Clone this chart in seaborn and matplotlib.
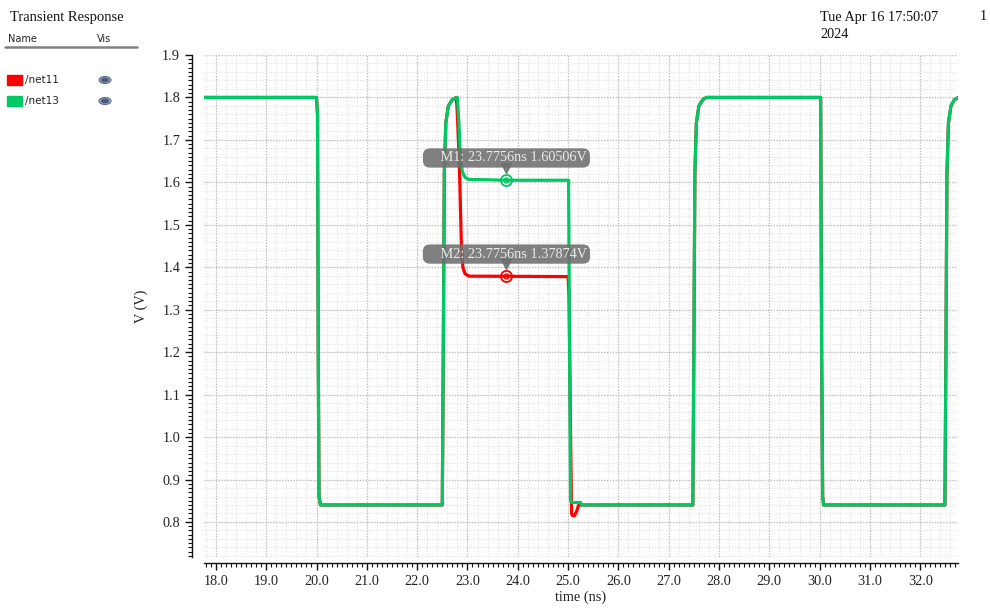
import numpy as np
import pandas as pd
import matplotlib
matplotlib.use("Agg")
import matplotlib.pyplot as plt
import matplotlib.transforms as mtransforms
import seaborn as sns
from matplotlib.patches import Ellipse, Rectangle, Circle
from matplotlib.lines import Line2D

# waveform samples (time in ns, volts)
net13_t = [17.76, 20.00, 20.02, 20.035, 20.05, 20.08, 22.50, 22.52, 22.54, 22.57, 22.62, 22.70, 22.80,
           22.83, 22.86, 22.90, 22.95, 23.02, 23.78, 25.01, 25.03, 25.05, 25.08, 25.25, 25.27,
           27.48, 27.50, 27.52, 27.55, 27.60, 27.68, 27.75, 30.02, 30.04, 30.06, 30.08,
           32.49, 32.51, 32.53, 32.56, 32.61, 32.68, 32.76]
net13_v = [1.80, 1.80, 1.76, 1.20, 0.86, 0.84, 0.84, 1.20, 1.62, 1.74, 1.78, 1.795, 1.80,
           1.74, 1.66, 1.625, 1.612, 1.607, 1.605, 1.605, 1.20, 0.85, 0.846, 0.846, 0.84,
           0.84, 1.20, 1.62, 1.74, 1.78, 1.795, 1.80, 1.80, 1.20, 0.86, 0.84,
           0.84, 1.20, 1.62, 1.74, 1.78, 1.795, 1.80]

net11_t = [17.76, 20.00, 20.02, 20.035, 20.05, 20.08, 22.50, 22.52, 22.54, 22.57, 22.62, 22.70, 22.78,
           22.80, 22.84, 22.88, 22.91, 22.95, 23.03, 23.78, 25.00, 25.02, 25.05, 25.07, 25.09,
           25.13, 25.17, 25.21, 25.27, 27.48, 27.50, 27.52, 27.55, 27.60, 27.68, 27.75,
           30.02, 30.04, 30.06, 30.08, 32.49, 32.51, 32.53, 32.56, 32.61, 32.68, 32.76]
net11_v = [1.80, 1.80, 1.76, 1.20, 0.86, 0.84, 0.84, 1.20, 1.62, 1.74, 1.78, 1.795, 1.80,
           1.76, 1.64, 1.45, 1.40, 1.385, 1.379, 1.37874, 1.378, 1.33, 1.00, 0.82, 0.815,
           0.815, 0.825, 0.84, 0.84, 0.84, 1.20, 1.62, 1.74, 1.78, 1.795, 1.80,
           1.80, 1.20, 0.86, 0.84, 0.84, 1.20, 1.62, 1.74, 1.78, 1.795, 1.80]

marker_names = ["M1", "M2"]
marker_t = [23.7756, 23.7756]
marker_v = [1.60506, 1.37874]
marker_series = ["/net13", "/net11"]

colors = {"/net11": "#ff0000", "/net13": "#00c864"}

df = pd.concat([
    pd.DataFrame({"time": net11_t, "volt": net11_v, "signal": "/net11"}),
    pd.DataFrame({"time": net13_t, "volt": net13_v, "signal": "/net13"}),
])

sns.set_theme(style="white")
plt.rcParams["font.family"] = ["Liberation Serif", "DejaVu Serif"]

fig = plt.figure(figsize=(9.9, 6.12), dpi=100)
ax = fig.add_axes([204 / 990, 1 - 557 / 612, 754 / 990, 502 / 612])

sns.lineplot(data=df, x="time", y="volt", hue="signal", palette=colors,
             hue_order=["/net11", "/net13"], sort=False, estimator=None,
             linewidth=2.3, legend=False, ax=ax, zorder=3)

ax.set_xlim(17.764, 32.75)
ax.set_ylim(0.7175, 1.9)

# grid: light minor grid plus a darker major grid, both dotted
for gx in np.arange(17.8, 32.8, 0.2):
    ax.axvline(gx, color="#e2e2e2", lw=0.8, ls=(0, (1, 1.5)), zorder=0)
for gy in np.arange(0.72, 1.9, 0.02):
    ax.axhline(gy, color="#e2e2e2", lw=0.8, ls=(0, (1, 1.5)), zorder=0)
ax.set_xticks(np.arange(18, 33, 1.0))
ax.set_yticks(np.arange(0.8, 1.91, 0.1))
ax.set_xticks(np.arange(17.8, 32.76, 0.1), minor=True)
ax.set_yticks(np.arange(0.72, 1.901, 0.01), minor=True)
ax.set_xticklabels([f"{v:.1f}" for v in np.arange(18, 33, 1.0)])
ax.set_yticklabels([f"{v:.1f}" for v in np.arange(0.8, 1.91, 0.1)])
ax.grid(which="major", color="#bcbcbc", lw=0.9, ls=(0, (1, 1.3)), zorder=0)

for s in ["top", "right"]:
    ax.spines[s].set_visible(False)
ax.spines["left"].set_position(("outward", 8.6))
ax.spines["bottom"].set_position(("outward", 4.3))
for s in ["left", "bottom"]:
    ax.spines[s].set_color("#111111")
    ax.spines[s].set_linewidth(1.0)
ax.tick_params(which="major", direction="out", length=5, width=1, color="#111111",
               labelsize=10.3, labelcolor="#222222", left=True, bottom=True)
ax.tick_params(which="minor", direction="out", length=3, width=0.8, color="#111111",
               left=True, bottom=True)
ax.set_xlabel("time (ns)", fontsize=10.3, color="#222222", labelpad=2)
ax.set_ylabel("V (V)", fontsize=10.3, color="#222222", labelpad=10)

# markers with their readout boxes
tip = ax.transData + mtransforms.ScaledTranslation(0, 8.5 / 72, fig.dpi_scale_trans)
for name, t, v, sig in zip(marker_names, marker_t, marker_v, marker_series):
    c = colors[sig]
    ax.plot([t], [v], marker="o", ms=8, mfc="none", mec=c, mew=1.3, zorder=5)
    ax.plot([t], [v], marker="o", ms=3.5, mfc="none", mec=c, mew=1.0, zorder=5)
    ax.annotate(f"    {name}: {t:.4f}ns {v:.5f}V", xy=(t, v), xytext=(0, 16),
                textcoords="offset points", ha="center", va="center",
                fontsize=10.3, color="#ececec", zorder=6,
                bbox=dict(boxstyle="round,pad=0.22,rounding_size=0.5", fc="#6e6e6e",
                          ec="none", alpha=0.88))
    ax.plot([t], [v], marker="v", ms=7, color="#6e6e6e", alpha=0.88,
            linestyle="none", transform=tip, zorder=6)

# header and signal list on the left
fig.text(10 / 990, 1 - 17 / 612, "Transient Response", fontsize=10.5, va="center", color="#111111")
fig.text(820 / 990, 1 - 17 / 612, "Tue Apr 16 17:50:07", fontsize=10.3, va="center", color="#111111")
fig.text(820 / 990, 1 - 34 / 612, "2024", fontsize=10.3, va="center", color="#111111")
fig.text(980 / 990, 1 - 17 / 612, "1", fontsize=10.3, va="center", color="#111111")
fig.text(8 / 990, 1 - 39 / 612, "Name", fontsize=7, va="center", family="DejaVu Sans", color="#222222")
fig.text(97 / 990, 1 - 39 / 612, "Vis", fontsize=7, va="center", family="DejaVu Sans", color="#222222")
fig.add_artist(Line2D([5 / 990, 137 / 990], [1 - 47 / 612, 1 - 47 / 612], color="#808080", lw=1.8))

for i, sig in enumerate(["/net11", "/net13"]):
    yc = 1 - (80 + 21 * i) / 612
    fig.add_artist(Rectangle((7 / 990, yc - 5 / 612), 15 / 990, 10 / 612, color=colors[sig]))
    fig.text(25 / 990, yc, sig, fontsize=7.5, va="center", family="DejaVu Sans", color="#222222")
    fig.add_artist(Ellipse((105 / 990, yc), 12 / 990, 7 / 612, fc="#a8b4cc", ec="#5a6a8a", lw=0.8))
    fig.add_artist(Circle((105 / 990, yc), 2.5 / 612, fc="#4a5a7a", ec="none", transform=fig.transFigure))

fig.savefig("out.png", dpi=100)
